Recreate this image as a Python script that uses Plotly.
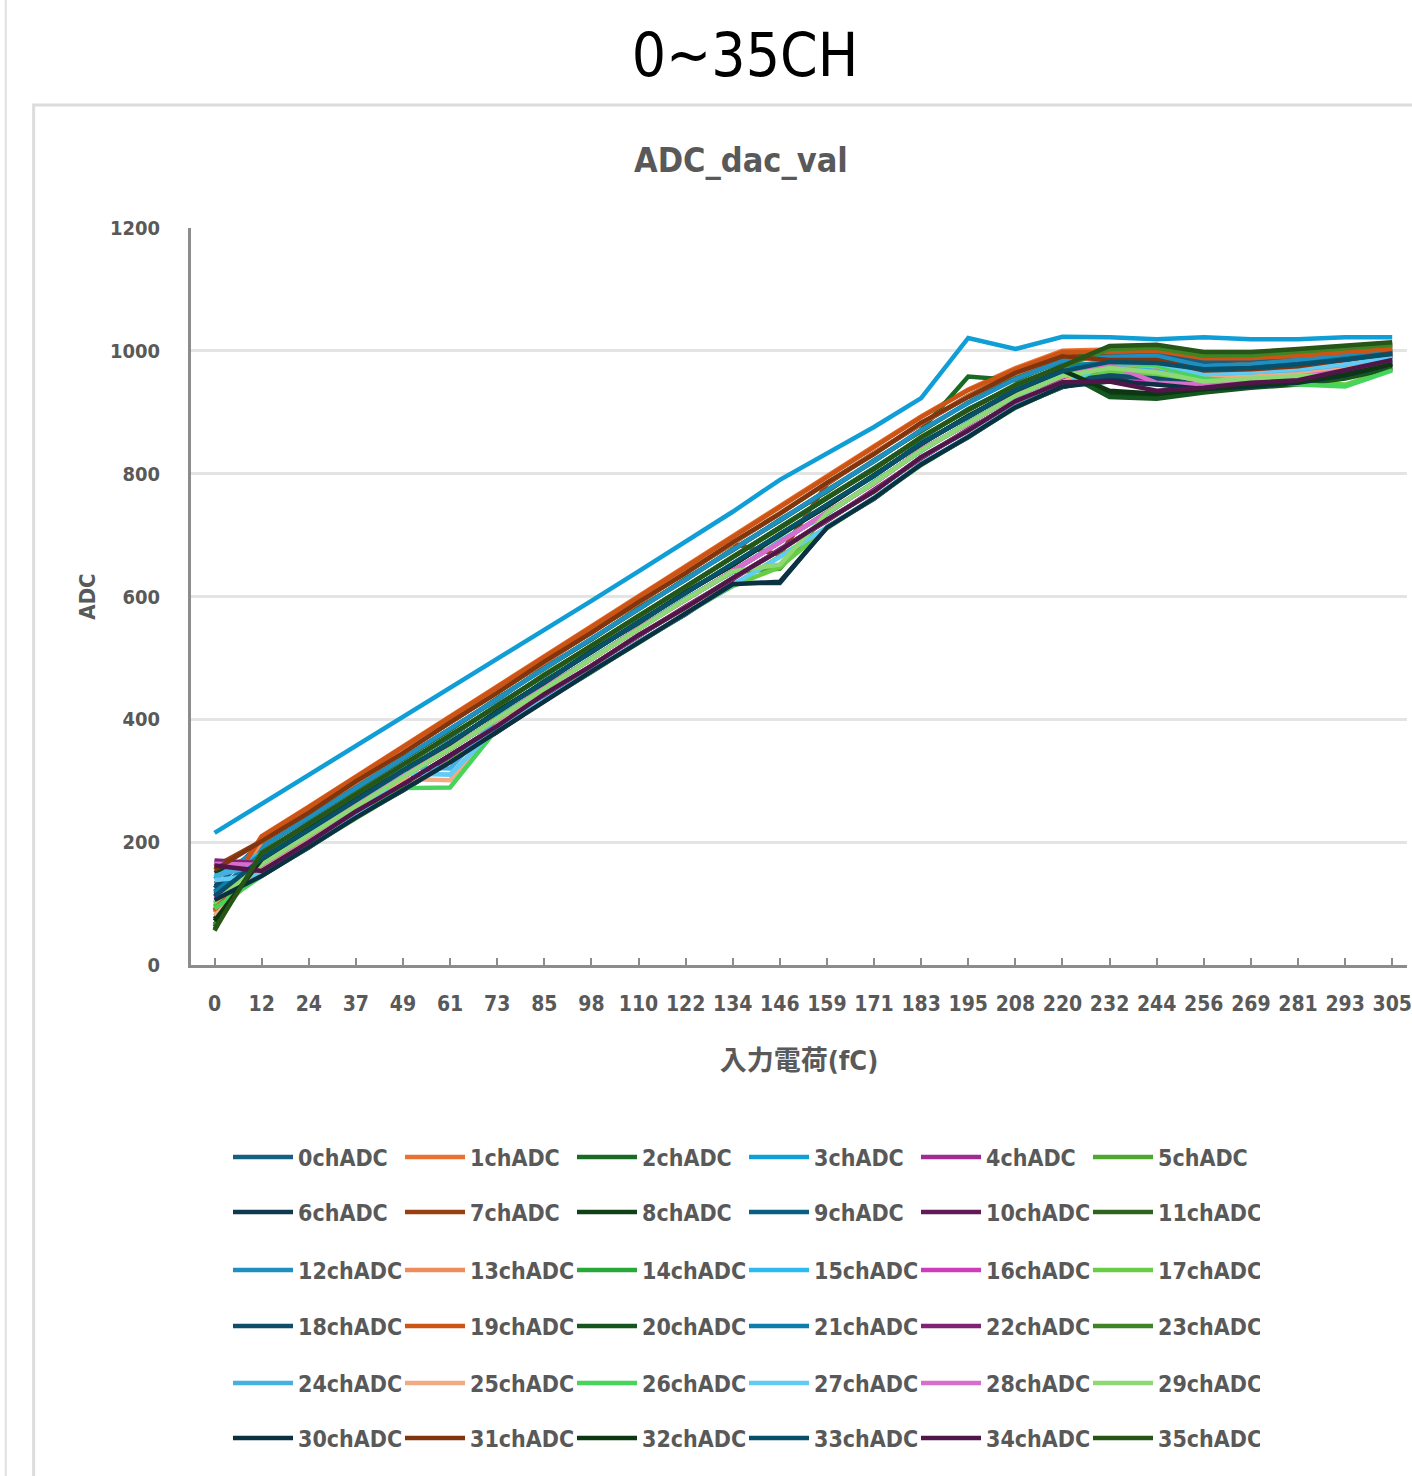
import colorsys
import plotly.graph_objects as go

# ---------------- data ----------------
x_labels = ["0", "12", "24", "37", "49", "61", "73", "85", "98", "110", "122", "134", "146",
            "159", "171", "183", "195", "208", "220", "232", "244", "256", "269", "281", "293", "305"]

adc_ch0 = [125, 200, 248, 297, 347, 395, 443, 492, 541, 591, 638, 686, 735, 785, 832, 881, 925, 962, 991, 995, 996, 982, 985, 990, 996, 1002]
adc_ch1 = [90, 210, 258, 307, 356, 405, 454, 503, 552, 601, 650, 698, 747, 796, 845, 893, 937, 972, 1000, 1002, 1003, 990, 990, 995, 1000, 1005]
adc_ch2 = [62, 191, 241, 289, 335, 385, 432, 484, 530, 581, 627, 677, 723, 773, 820, 871, 958, 952, 985, 1000, 1002, 990, 990, 995, 1002, 1008]
adc_ch3 = [215, 262, 309, 356, 403, 450, 497, 545, 593, 641, 690, 738, 790, 833, 876, 923, 1021, 1003, 1023, 1022, 1019, 1022, 1019, 1019, 1022, 1022]
adc_ch4 = [168, 165, 210, 260, 305, 353, 400, 452, 498, 548, 594, 642, 688, 737, 784, 839, 881, 928, 958, 988, 988, 962, 962, 968, 985, 995]
adc_ch5 = [100, 163, 212, 258, 307, 351, 402, 450, 500, 546, 596, 640, 645, 735, 786, 837, 883, 926, 960, 975, 970, 965, 968, 972, 978, 990]
adc_ch6 = [133, 146, 191, 241, 284, 331, 379, 431, 477, 526, 571, 622, 622, 713, 759, 816, 859, 909, 941, 955, 950, 940, 945, 950, 962, 980]
adc_ch7 = [160, 202, 250, 298, 345, 395, 445, 492, 543, 589, 640, 686, 668, 783, 834, 881, 927, 964, 993, 990, 990, 975, 978, 982, 990, 1000]
adc_ch8 = [150, 183, 229, 279, 326, 372, 423, 471, 521, 567, 617, 663, 713, 759, 809, 858, 905, 943, 974, 930, 925, 935, 942, 948, 960, 975]
adc_ch9 = [120, 172, 221, 268, 317, 361, 413, 460, 511, 557, 607, 651, 701, 747, 798, 848, 894, 935, 968, 985, 985, 972, 975, 980, 990, 998]
adc_ch10 = [115, 155, 200, 250, 294, 342, 389, 441, 487, 537, 582, 630, 675, 725, 771, 827, 870, 918, 949, 985, 986, 958, 960, 966, 982, 992]
adc_ch11 = [56, 193, 239, 287, 337, 383, 434, 482, 532, 579, 629, 675, 725, 771, 822, 870, 916, 955, 983, 1005, 1008, 995, 996, 1000, 1006, 1012]
adc_ch12 = [140, 192, 240, 288, 336, 384, 433, 483, 531, 580, 628, 676, 724, 772, 821, 871, 915, 954, 984, 990, 992, 975, 978, 985, 992, 1000]
adc_ch13 = [85, 201, 249, 298, 346, 394, 444, 493, 542, 590, 639, 687, 736, 784, 833, 882, 926, 963, 992, 982, 978, 958, 962, 965, 972, 985]
adc_ch14 = [95, 173, 220, 269, 316, 362, 412, 461, 510, 558, 606, 652, 700, 748, 797, 849, 893, 936, 967, 978, 972, 950, 955, 960, 965, 980]
adc_ch15 = [143, 182, 230, 278, 325, 373, 422, 472, 520, 568, 616, 664, 712, 760, 808, 859, 904, 944, 975, 978, 975, 960, 962, 968, 975, 988]
adc_ch16 = [110, 164, 211, 259, 306, 352, 401, 451, 499, 547, 595, 641, 689, 736, 785, 838, 882, 927, 959, 965, 945, 942, 950, 955, 965, 980]
adc_ch17 = [98, 146, 193, 239, 286, 331, 381, 429, 479, 524, 573, 617, 648, 711, 761, 814, 861, 907, 943, 968, 960, 945, 950, 955, 945, 970]
adc_ch18 = [128, 154, 201, 249, 295, 341, 390, 440, 488, 536, 583, 629, 676, 724, 772, 826, 871, 917, 950, 960, 955, 945, 948, 955, 965, 982]
adc_ch19 = [88, 209, 257, 306, 355, 404, 453, 502, 551, 600, 649, 697, 746, 795, 844, 892, 936, 970, 998, 998, 1000, 988, 988, 992, 998, 1003]
adc_ch20 = [75, 174, 219, 270, 315, 363, 411, 462, 509, 559, 605, 653, 699, 749, 796, 850, 892, 937, 966, 925, 922, 932, 940, 945, 955, 972]
adc_ch21 = [118, 181, 231, 277, 326, 372, 423, 471, 521, 567, 617, 663, 713, 759, 809, 858, 905, 943, 976, 980, 975, 968, 972, 978, 988, 996]
adc_ch22 = [170, 166, 202, 248, 296, 340, 391, 439, 489, 535, 584, 628, 677, 723, 773, 825, 872, 916, 951, 975, 970, 950, 955, 962, 978, 990]
adc_ch23 = [66, 183, 229, 279, 324, 374, 421, 473, 519, 569, 615, 665, 711, 761, 807, 860, 903, 945, 974, 1003, 1005, 992, 993, 998, 1004, 1010]
adc_ch24 = [145, 165, 212, 258, 322, 320, 402, 450, 500, 546, 596, 640, 690, 735, 786, 837, 883, 926, 960, 975, 968, 958, 960, 966, 975, 988]
adc_ch25 = [80, 155, 202, 250, 303, 301, 391, 441, 487, 537, 582, 630, 675, 725, 771, 827, 870, 918, 949, 980, 975, 955, 958, 962, 970, 983]
adc_ch26 = [92, 145, 192, 240, 288, 289, 385, 430, 478, 525, 572, 618, 665, 712, 760, 815, 860, 908, 942, 980, 976, 955, 950, 945, 942, 968]
adc_ch27 = [138, 147, 193, 241, 312, 310, 388, 431, 479, 526, 573, 619, 664, 713, 761, 816, 861, 909, 943, 982, 980, 962, 965, 970, 978, 990]
adc_ch28 = [165, 163, 210, 260, 307, 353, 400, 452, 498, 548, 594, 642, 688, 737, 784, 839, 881, 928, 958, 978, 948, 945, 952, 958, 968, 982]
adc_ch29 = [102, 164, 211, 259, 306, 352, 401, 451, 499, 547, 595, 641, 652, 736, 785, 838, 882, 927, 959, 972, 965, 950, 955, 958, 962, 978]
adc_ch30 = [106, 145, 192, 240, 285, 330, 380, 430, 478, 525, 572, 620, 624, 712, 760, 815, 860, 908, 942, 950, 945, 938, 942, 948, 960, 978]
adc_ch31 = [155, 202, 248, 299, 345, 395, 443, 494, 541, 591, 638, 688, 735, 785, 832, 883, 925, 964, 991, 985, 985, 968, 970, 975, 985, 996]
adc_ch32 = [72, 172, 221, 268, 317, 361, 413, 460, 511, 557, 607, 651, 701, 747, 798, 848, 894, 935, 968, 935, 930, 938, 945, 950, 962, 978]
adc_ch33 = [112, 173, 220, 269, 316, 362, 412, 461, 510, 558, 606, 652, 700, 748, 797, 849, 893, 936, 967, 982, 980, 970, 972, 978, 986, 995]
adc_ch34 = [162, 153, 200, 250, 294, 342, 389, 441, 487, 537, 582, 630, 675, 725, 771, 827, 870, 918, 949, 950, 935, 940, 948, 952, 968, 985]
adc_ch35 = [58, 182, 230, 278, 325, 373, 422, 472, 520, 568, 616, 664, 712, 760, 808, 859, 904, 944, 975, 1008, 1010, 998, 998, 1003, 1008, 1014]

series = [adc_ch0, adc_ch1, adc_ch2, adc_ch3, adc_ch4, adc_ch5, adc_ch6, adc_ch7, adc_ch8,
          adc_ch9, adc_ch10, adc_ch11, adc_ch12, adc_ch13, adc_ch14, adc_ch15, adc_ch16, adc_ch17,
          adc_ch18, adc_ch19, adc_ch20, adc_ch21, adc_ch22, adc_ch23, adc_ch24, adc_ch25, adc_ch26,
          adc_ch27, adc_ch28, adc_ch29, adc_ch30, adc_ch31, adc_ch32, adc_ch33, adc_ch34, adc_ch35]
channel_names = [f"{i}chADC" for i in range(36)]
assert all(len(s) == len(x_labels) for s in series)

# ---------------- style ----------------
W, H = 1412, 1476
PL, PT, PB = 191, 228, 965          # plot area pixel edges (left, top, bottom)
PR = W
unit_px = 47.3                      # pixel width of one category
x_hi = -0.5 + (PR - PL) / unit_px

accents = ["#156082", "#E97132", "#196B24", "#0F9ED5", "#A02B93", "#4EA72E"]
mods = [(1.0, 0.0), (0.6, 0.0), (0.8, 0.2), (0.8, 0.0), (0.6, 0.4), (0.5, 0.0)]


def excel_color(k):
    base = accents[k % 6]
    lm, lo = mods[k // 6]
    r, g, b = (int(base[i:i + 2], 16) / 255 for i in (1, 3, 5))
    h, l, s = colorsys.rgb_to_hls(r, g, b)
    l = min(1.0, l * lm + lo)
    r, g, b = colorsys.hls_to_rgb(h, l, s)
    return "#%02x%02x%02x" % (round(r * 255), round(g * 255), round(b * 255))


FONT = "DejaVu Sans Condensed, Liberation Sans Narrow, Arial Narrow, Noto Sans CJK JP, sans-serif"
GRAY = "#595959"
AXIS = "#8c8c8c"

fig = go.Figure()
legend_keys = ["legend", "legend2", "legend3", "legend4", "legend5", "legend6"]
for k, ys in enumerate(series):
    fig.add_trace(go.Scatter(
        x=x_labels, y=ys, name=channel_names[k], mode="lines",
        line=dict(color=excel_color(k), width=4.5),
        legend=legend_keys[k // 6],
    ))

row_px = [1157, 1212, 1270, 1326, 1383, 1438]
legend_x_px = 228
layout_legends = {}
for r, key in enumerate(legend_keys):
    layout_legends[key] = dict(
        orientation="h", xref="container", yref="container",
        x=legend_x_px / W, y=(H - row_px[r]) / H, xanchor="left", yanchor="middle",
        entrywidth=97, entrywidthmode="pixels", itemwidth=60,
        font=dict(family=FONT, size=23, color=GRAY, weight="bold"),
        bgcolor="rgba(0,0,0,0)", borderwidth=0, traceorder="normal",
    )


def px_x(v):
    return (v - PL) / (PR - PL)


def px_y(v):
    return (PB - v) / (PB - PT)


fig.update_layout(
    width=W, height=H,
    margin=dict(l=PL, r=W - PR, t=PT, b=H - PB, pad=0),
    paper_bgcolor="white", plot_bgcolor="white",
    font=dict(family=FONT, color=GRAY),
    showlegend=True,
    title=dict(text="0~35CH", xref="container", yref="container",
               x=745 / W, y=(H - 55) / H, xanchor="center", yanchor="middle",
               font=dict(family=FONT, size=60, color="black")),
    xaxis=dict(
        type="category", categoryorder="array", categoryarray=x_labels,
        range=[-0.5, x_hi], showgrid=False, zeroline=False,
        showline=True, linecolor=AXIS, linewidth=3,
        ticks="inside", ticklen=7, tickwidth=2, tickcolor=AXIS,
        tickfont=dict(family=FONT, size=21, color=GRAY, weight="bold"),
        ticklabelstandoff=18,
        title=dict(text="入力電荷(fC)", standoff=36,
                   font=dict(family=FONT, size=27, color=GRAY, weight="bold")),
    ),
    yaxis=dict(
        range=[0, 1200], dtick=200, tick0=0,
        showgrid=True, gridcolor="#e4e4e4", gridwidth=3, zeroline=False,
        showline=True, linecolor=AXIS, linewidth=3, ticks="",
        tickfont=dict(family=FONT, size=20, color=GRAY, weight="bold"),
        ticklabelstandoff=24,
        title=dict(text="ADC", standoff=9,
                   font=dict(family=FONT, size=22, color=GRAY, weight="bold")),
    ),
    annotations=[dict(
        text="ADC_dac_val", xref="paper", yref="paper",
        x=px_x(743), y=px_y(160), xanchor="center", yanchor="middle", showarrow=False,
        font=dict(family=FONT, size=34, color=GRAY, weight="bold"),
    )],
    shapes=[
        dict(type="rect", xref="paper", yref="paper", layer="below",
             x0=px_x(33), x1=px_x(W + 20), y0=px_y(H + 20), y1=px_y(105),
             line=dict(color="#dcdcdc", width=3), fillcolor="rgba(0,0,0,0)"),
        dict(type="line", xref="paper", yref="paper", layer="below",
             x0=px_x(5), x1=px_x(5), y0=px_y(H + 5), y1=px_y(-5),
             line=dict(color="#e0e0e0", width=2)),
    ],
    **layout_legends,
)

fig.write_html("out.html", config={"displayModeBar": False},
               post_script="document.body.style.margin='0';document.body.style.overflow='hidden';")
